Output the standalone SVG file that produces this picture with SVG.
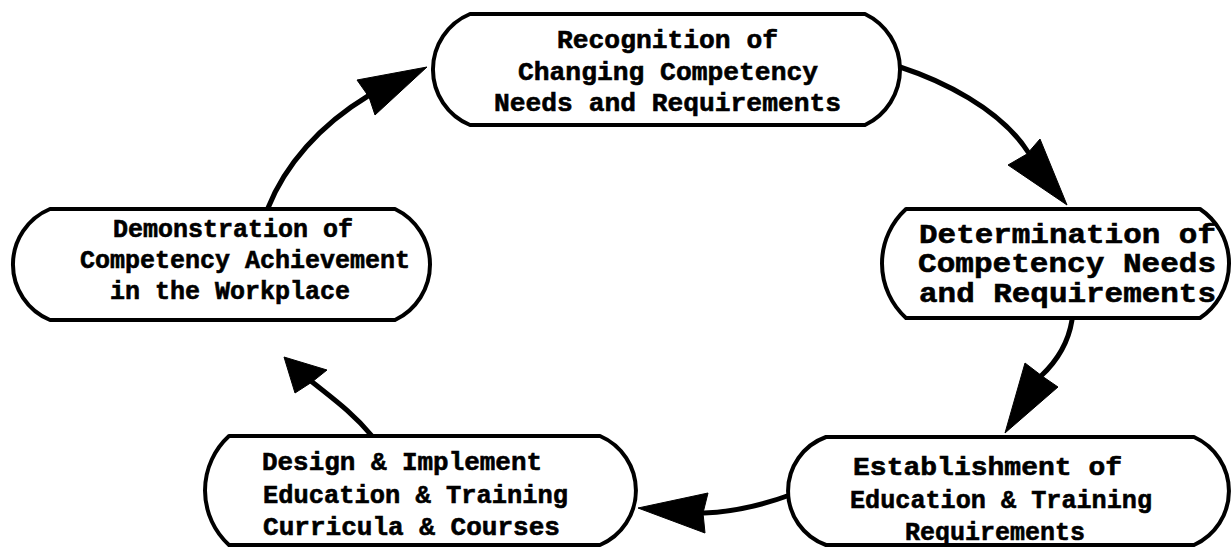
<svg xmlns="http://www.w3.org/2000/svg" width="1232" height="547" viewBox="0 0 1232 547">
<style>
.node{fill:#fff;stroke:#000;stroke-width:4;stroke-linejoin:round}
.lbl{font-family:"Liberation Mono","DejaVu Sans Mono",monospace;font-weight:bold;fill:#000;stroke:#000;stroke-width:0.6}
.conn{fill:none;stroke:#000;stroke-width:5;stroke-linecap:round}
.head{fill:#000;stroke:#000;stroke-width:1;stroke-linejoin:round}
</style>
<rect width="1232" height="547" fill="#fff"/>
<g id="connectors">
<path class="conn" d="M900,67 C940,80 1000,108 1028,152"/>
<path class="head" d="M1067,205 L1008,165 L1027,154 L1040,139 Z"/>
<path class="conn" d="M1072,320 C1068,345 1056,362 1041,376"/>
<path class="head" d="M1005,433 L1025,363 L1042,376 L1058,387 Z"/>
<path class="conn" d="M790,495 C760,506 732,512 704,513"/>
<path class="head" d="M638,508 L708,493 L703,513 L705,533 Z"/>
<path class="conn" d="M372,436 C352,412 332,398 311,381"/>
<path class="head" d="M284,357 L327,370 L312,382 L295,393 Z"/>
<path class="conn" d="M268,208 C285,165 320,125 368,96"/>
<path class="head" d="M427,67 L357,80 L369,97 L375,115 Z"/>
</g>
<g id="node-recognition">
<path class="node" d="M470,14 H865 A61.5,61.5 0 0 1 865,125 H470 A60.1,60.1 0 0 1 470,14 Z"/>
<text class="lbl" font-size="26" x="557" y="48" textLength="221" lengthAdjust="spacingAndGlyphs">Recognition of</text>
<text class="lbl" font-size="26" x="518" y="80" textLength="300" lengthAdjust="spacingAndGlyphs">Changing Competency</text>
<text class="lbl" font-size="26" x="494" y="111" textLength="347" lengthAdjust="spacingAndGlyphs">Needs and Requirements</text>
</g>
<g id="node-determination">
<path class="node" d="M906,209 H1200 A65.7,65.7 0 0 1 1200,318 H906 A73.9,73.9 0 0 1 906,209 Z"/>
<text class="lbl" font-size="28" x="919" y="243" textLength="297" lengthAdjust="spacingAndGlyphs">Determination of</text>
<text class="lbl" font-size="28" x="918" y="272" textLength="298" lengthAdjust="spacingAndGlyphs">Competency Needs</text>
<text class="lbl" font-size="28" x="919" y="302" textLength="297" lengthAdjust="spacingAndGlyphs">and Requirements</text>
</g>
<g id="node-establishment">
<path class="node" d="M826,437 H1194 A59.2,59.2 0 0 1 1194,545 H826 A57.4,57.4 0 0 1 826,437 Z"/>
<text class="lbl" font-size="26" x="853" y="475" textLength="269" lengthAdjust="spacingAndGlyphs">Establishment of</text>
<text class="lbl" font-size="26" x="850" y="508" textLength="302" lengthAdjust="spacingAndGlyphs">Education &amp; Training</text>
<text class="lbl" font-size="26" x="905" y="540" textLength="180" lengthAdjust="spacingAndGlyphs">Requirements</text>
</g>
<g id="node-design">
<path class="node" d="M229,436 H600 A59.3,59.3 0 0 1 600,545 H229 A73.9,73.9 0 0 1 229,436 Z"/>
<text class="lbl" font-size="26" x="262" y="470" textLength="280" lengthAdjust="spacingAndGlyphs">Design &amp; Implement</text>
<text class="lbl" font-size="26" x="263" y="503" textLength="305" lengthAdjust="spacingAndGlyphs">Education &amp; Training</text>
<text class="lbl" font-size="26" x="263" y="535" textLength="297" lengthAdjust="spacingAndGlyphs">Curricula &amp; Courses</text>
</g>
<g id="node-demonstration">
<path class="node" d="M50,209 H395 A61.5,61.5 0 0 1 395,320 H50 A60.1,60.1 0 0 1 50,209 Z"/>
<text class="lbl" font-size="25" x="113" y="237" textLength="240" lengthAdjust="spacingAndGlyphs">Demonstration of</text>
<text class="lbl" font-size="25" x="80" y="268" textLength="330" lengthAdjust="spacingAndGlyphs">Competency Achievement</text>
<text class="lbl" font-size="25" x="110" y="299" textLength="240" lengthAdjust="spacingAndGlyphs">in the Workplace</text>
</g>
</svg>
